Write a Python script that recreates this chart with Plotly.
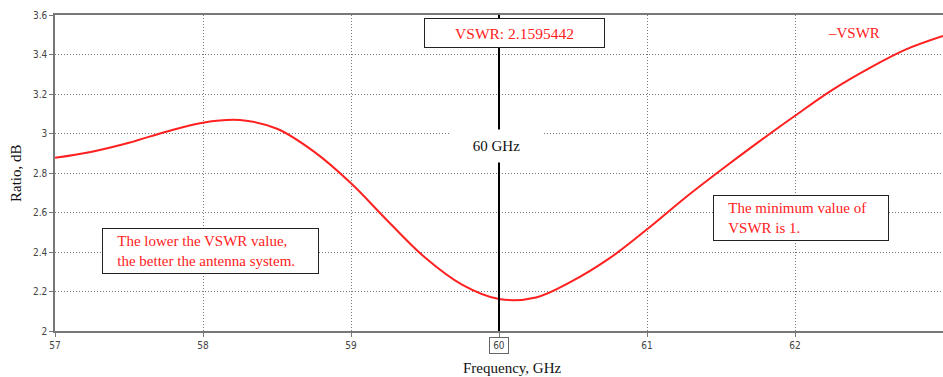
import plotly.graph_objects as go

freq_ghz = [57.0, 57.25, 57.5, 57.75, 58.0, 58.25, 58.5, 58.75, 59.0, 59.25, 59.5,
            59.75, 60.0, 60.25, 60.5, 60.75, 61.0, 61.25, 61.5, 61.75, 62.0,
            62.25, 62.5, 62.75, 63.0]
vswr = [2.877, 2.908, 2.953, 3.009, 3.055, 3.068, 3.024, 2.908, 2.748, 2.556, 2.372,
        2.235, 2.162, 2.170, 2.255, 2.370, 2.515, 2.670, 2.815, 2.955, 3.090,
        3.220, 3.330, 3.426, 3.494]

x_tick_vals = [57, 58, 59, 60, 61, 62, 63]
x_tick_text = ["57", "58", "59", "", "61", "62", "63"]
y_tick_vals = [2, 2.2, 2.4, 2.6, 2.8, 3, 3.2, 3.4, 3.6]
y_tick_text = ["2", "2.2", "2.4", "2.6", "2.8", "3", "3.2", "3.4", "3.6"]

marker_freq = 60.0
marker_label = "60 GHz"
marker_value_text = "VSWR: 2.1595442"
pad = "&nbsp;&nbsp;&nbsp;"
note_left = pad + "The lower the VSWR value,<br>" + pad + "the better the antenna system."
note_right = pad + "The minimum value of<br>" + pad + "VSWR is 1."

serif = "Liberation Serif, Times New Roman, serif"
tickfont = dict(family="DejaVu Sans Condensed, DejaVu Sans, sans-serif", size=10, color="#444")
red = "#ff2020"

fig = go.Figure()
fig.add_trace(go.Scatter(x=freq_ghz, y=vswr, mode="lines", name="VSWR",
                         line=dict(color=red, width=2, shape="spline", smoothing=1.0),
                         showlegend=False))

fig.add_shape(type="line", xref="x", yref="paper", x0=marker_freq, x1=marker_freq,
              y0=0, y1=1, line=dict(color="black", width=2), layer="above")

fig.add_annotation(x=marker_freq, y=2.935, xref="x", yref="y", text=marker_label,
                   showarrow=False, font=dict(family=serif, size=15, color="#111"),
                   bgcolor="white", width=93, height=32, borderpad=0, xshift=-3)
fig.add_annotation(x=marker_freq, y=1, xref="x", yref="paper", xshift=15, yshift=-3,
                   yanchor="top", text=marker_value_text, showarrow=False,
                   font=dict(family=serif, size=15.5, color=red),
                   bgcolor="white", bordercolor="#222", borderwidth=1, width=175, height=24, borderpad=2)
fig.add_annotation(x=marker_freq, y=0, xref="x", yref="paper", yanchor="top", yshift=-6,
                   text="60", showarrow=False, font=tickfont,
                   bordercolor="#666", borderwidth=1, borderpad=2, width=14)
fig.add_annotation(x=58.05, y=2.405, xref="x", yref="y", text=note_left, showarrow=False,
                   align="left", font=dict(family=serif, size=15, color=red),
                   bgcolor="white", bordercolor="#222", borderwidth=1, width=209, height=38, borderpad=3)
fig.add_annotation(x=62.04, y=2.572, xref="x", yref="y", text=note_right, showarrow=False,
                   align="left", font=dict(family=serif, size=15, color=red),
                   bgcolor="white", bordercolor="#222", borderwidth=1, width=168, height=38, borderpad=3)
fig.add_annotation(x=62.4, y=3.51, xref="x", yref="y", text="–VSWR", showarrow=False,
                   font=dict(family=serif, size=15, color=red))

# axis titles
fig.add_annotation(x=0, y=0.5, xref="paper", yref="paper", xanchor="center", yanchor="middle",
                   xshift=-39, textangle=-90,
                   text="Ratio, dB", showarrow=False, font=dict(family=serif, size=15, color="#111"))
fig.add_annotation(x=0.5, y=0, xref="paper", yref="paper", xanchor="center", yanchor="middle",
                   xshift=13, yshift=-37,
                   text="Frequency, GHz", showarrow=False, font=dict(family=serif, size=15, color="#111"))

grid = dict(showgrid=True, gridcolor="#777", griddash="1px,2px", gridwidth=1.2)
fig.update_layout(
    width=943, height=377,
    margin=dict(l=55, r=0, t=15, b=46),
    paper_bgcolor="white", plot_bgcolor="white",
    xaxis=dict(range=[57, 63], tickvals=x_tick_vals, ticktext=x_tick_text, tickfont=tickfont,
               showline=True, linecolor="#777", linewidth=1.5, mirror=True,
               ticks="outside", ticklen=4, tickcolor="#777", zeroline=False, automargin=False, **grid),
    yaxis=dict(range=[2, 3.6], tickvals=y_tick_vals, ticktext=y_tick_text, tickfont=tickfont,
               showline=True, linecolor="#777", linewidth=1.5,
               ticks="outside", ticklen=4, tickcolor="#777", zeroline=False, automargin=False, **grid),
)

fig.write_html("out.html", config={"displayModeBar": False},
               post_script="document.body.style.margin='0';document.body.style.overflow='hidden';")
